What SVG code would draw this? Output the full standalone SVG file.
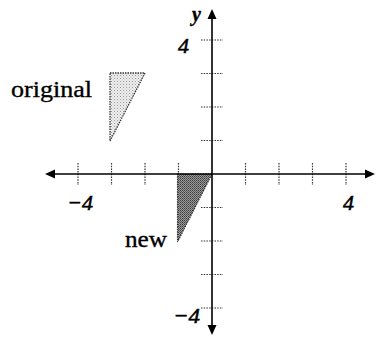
<svg xmlns="http://www.w3.org/2000/svg" width="376" height="338" viewBox="0 0 376 338">
<style>
.axis{stroke:#000;stroke-width:1.6;fill:none}
.tick{stroke:#333;stroke-width:1.2;stroke-dasharray:1.5 1.2;fill:none}
.lbl{font-family:"Liberation Serif","Times New Roman",serif;fill:#000;stroke:#000;stroke-width:0.35}
.num{font-family:"Liberation Serif","Times New Roman",serif;font-style:italic;font-size:22px;fill:#000;stroke:#000;stroke-width:0.5}
.head{fill:#000}
</style>
<defs>
<pattern id="lightDots" width="3" height="3" patternUnits="userSpaceOnUse">
<rect width="3" height="3" fill="#eeeeee"/>
<rect x="0" y="0" width="1" height="1" fill="#9a9a9a"/>
<rect x="1.5" y="1.5" width="1" height="1" fill="#bbbbbb"/>
</pattern>
<pattern id="darkDots" width="2" height="2" patternUnits="userSpaceOnUse">
<rect width="2" height="2" fill="#9c9c9c"/>
<rect x="0" y="0" width="1" height="1" fill="#3a3a3a"/>
<rect x="1" y="1" width="1" height="1" fill="#5a5a5a"/>
</pattern>
</defs>
<rect width="376" height="338" fill="#fff"/>
<g id="ticks">
<path class="tick" d="M78 163V185M111.5 163V185M145 163V185M178.5 163V185M245.5 163V185M279 163V185M312.5 163V185M346 163V185"/>
<path class="tick" d="M201 40H223M201 73.5H223M201 107H223M201 140.5H223M201 207.5H223M201 241H223M201 274.5H223M201 308H223"/>
</g>
<g id="original">
<polygon points="110,73 145,73 110,141" fill="url(#lightDots)" stroke="#333" stroke-width="1.3" stroke-dasharray="1.5 1"/>
</g>
<g id="new">
<polygon points="177.5,174 212,174 177.5,242" fill="url(#darkDots)" stroke="#333" stroke-width="1.2" stroke-dasharray="1.5 1"/>
</g>
<g id="axes">
<line class="axis" x1="52" y1="174" x2="368" y2="174"/>
<line class="axis" x1="212" y1="17" x2="212" y2="328"/>
<polygon class="head" points="45,174 55,169.5 55,178.5"/>
<polygon class="head" points="375,174 365,169.5 365,178.5"/>
<polygon class="head" points="212,9 207.5,19 216.5,19"/>
<polygon class="head" points="212,335 207.5,325 216.5,325"/>
</g>
<g id="labels">
<text class="lbl" x="11" y="97" font-size="24" textLength="81" lengthAdjust="spacingAndGlyphs">original</text>
<text class="lbl" x="125" y="247" font-size="24" textLength="42" lengthAdjust="spacingAndGlyphs">new</text>
<text class="lbl" x="192" y="21" font-size="20" font-style="italic" font-weight="bold">y</text>
<text class="num" x="178" y="53">4</text>
<text class="num" x="343" y="210">4</text>
<text class="num" x="67" y="210" textLength="26" lengthAdjust="spacingAndGlyphs">−4</text>
<text class="num" x="173" y="323" textLength="27" lengthAdjust="spacingAndGlyphs">−4</text>
</g>
</svg>
